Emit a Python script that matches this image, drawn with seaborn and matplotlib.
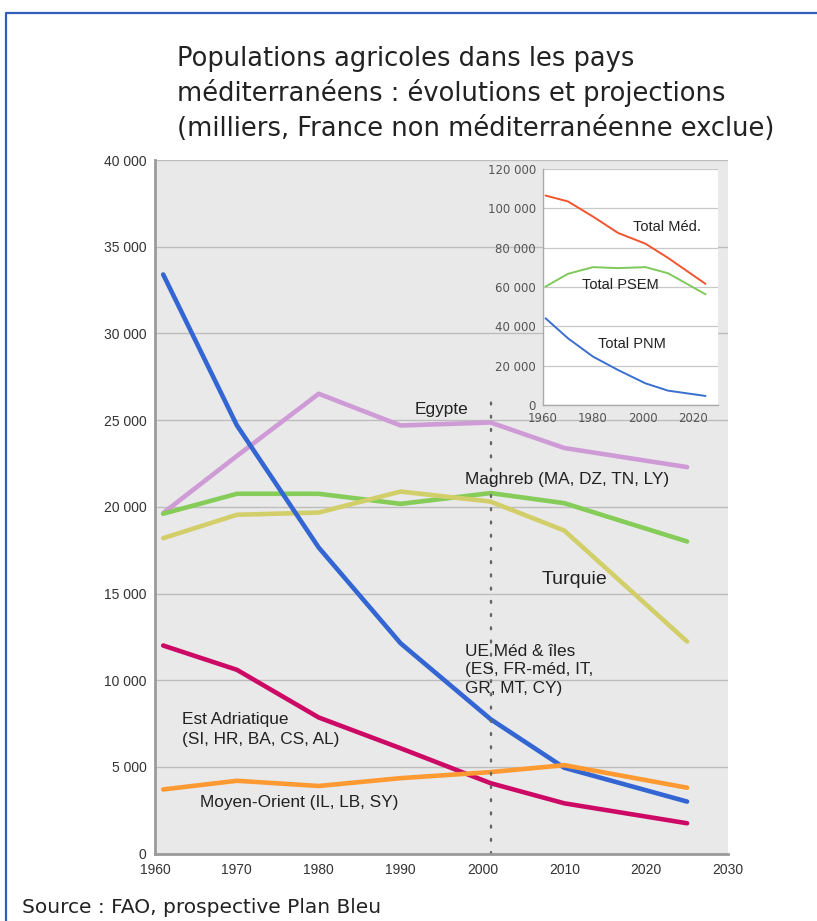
import matplotlib
matplotlib.use("Agg")
import matplotlib.pyplot as plt
import seaborn as sns
import pandas as pd
from matplotlib.lines import Line2D
from matplotlib.ticker import FuncFormatter

# ---------------- data ----------------
years = [1961, 1970, 1980, 1990, 2001, 2010, 2025]

egypte = [19640, 22930, 26520, 24690, 24860, 23390, 22290]
maghreb = [19600, 20750, 20750, 20170, 20790, 20210, 18000]
turquie = [18190, 19540, 19670, 20880, 20300, 18630, 12230]
ue_med = [33400, 24700, 17650, 12130, 7750, 4950, 3000]
est_adriatique = [12000, 10600, 7850, 6075, 4060, 2900, 1750]
moyen_orient = [3700, 4200, 3900, 4350, 4700, 5100, 3800]

total_med = [106500, 103500, 95800, 87500, 82000, 74800, 61600]
total_psem = [60200, 66700, 70100, 69600, 70100, 67000, 56300]
total_pnm = [44100, 33900, 24600, 17800, 11000, 7300, 4600]

main_xticks = [1960, 1970, 1980, 1990, 2000, 2010, 2020, 2030]
main_yticks = [0, 5000, 10000, 15000, 20000, 25000, 30000, 35000, 40000]
inset_xticks = [1960, 1980, 2000, 2020]
inset_yticks = [0, 20000, 40000, 60000, 80000, 100000, 120000]

title_lines = ["Populations agricoles dans les pays",
               "méditerranéens : évolutions et projections",
               "(milliers, France non méditerranéenne exclue)"]
source_text = "Source : FAO, prospective Plan Bleu"

projection_year = 2001
projection_top = 26300

# ---------------- style ----------------
sns.set_style("white")
plt.rcParams["font.family"] = ["Liberation Sans", "DejaVu Sans"]

W, H = 817, 921
fig = plt.figure(figsize=(W / 100, H / 100), dpi=100)


def fx(px):
    return px / W


def fy(py):
    return 1 - py / H


def space_fmt(v, pos=None):
    return f"{int(round(v)):,}".replace(",", " ")


# main axes
ax = fig.add_axes([fx(155), fy(853.6), fx(728) - fx(155), fy(160) - fy(853.6)])
ax.set_facecolor("#e9e9e9")

main_series = [
    (egypte, "#cf9bd6"),
    (maghreb, "#86cc58"),
    (turquie, "#d2cf6a"),
    (ue_med, "#3366d2"),
    (est_adriatique, "#cc0a66"),
    (moyen_orient, "#ff9a33"),
]
for vals, col in main_series:
    df = pd.DataFrame({"annee": years, "valeur": vals})
    sns.lineplot(data=df, x="annee", y="valeur", ax=ax, color=col, lw=3.3,
                 solid_joinstyle="round", sort=False)

ax.plot([projection_year, projection_year], [0, projection_top], color="#666666",
        lw=1.7, linestyle=(0, (0.8, 4.8)), dash_capstyle="round")

ax.set_xlim(1960, 2030)
ax.set_ylim(0, 40000)
ax.set_xticks(main_xticks)
ax.set_yticks(main_yticks)
ax.yaxis.set_major_formatter(FuncFormatter(space_fmt))
ax.set_xlabel("")
ax.set_ylabel("")
ax.grid(axis="y", color="#bdbdbd", lw=1)
ax.grid(axis="x", visible=False)
ax.set_axisbelow(True)
for s in ["top", "right"]:
    ax.spines[s].set_visible(False)
for s in ["left", "bottom"]:
    ax.spines[s].set_color("#9a9a9a")
    ax.spines[s].set_linewidth(2)
ax.tick_params(axis="y", length=4, width=1, color="#888888", pad=2,
               labelsize=10, labelcolor="#333333")
ax.tick_params(axis="x", direction="in", length=3, width=1, color="#888888",
               pad=7, labelsize=10, labelcolor="#333333")

lab = dict(fontsize=12.4, color="#222222", va="center")
ax.text(1995.0, 25600, "Egypte", ha="center", **lab)
ax.text(1997.85, 21560, "Maghreb (MA, DZ, TN, LY)", ha="left", **lab)
ax.text(2011.2, 15790, "Turquie", ha="center", fontsize=14, color="#222222", va="center")
ax.text(1997.85, 11650, "UE Méd & îles", ha="left", **lab)
ax.text(1997.85, 10590, "(ES, FR-méd, IT,", ha="left", **lab)
ax.text(1997.85, 9530, "GR, MT, CY)", ha="left", **lab)
ax.text(1963.26, 7710, "Est Adriatique", ha="left", **lab)
ax.text(1963.26, 6560, "(SI, HR, BA, CS, AL)", ha="left", **lab)
ax.text(1965.5, 2940, "Moyen-Orient (IL, LB, SY)", ha="left", **lab)

# inset axes
ax2 = fig.add_axes([fx(543), fy(405), fx(718) - fx(543), fy(169) - fy(405)])
ax2.set_facecolor("white")
inset_series = [
    (total_med, "#f2552e"),
    (total_psem, "#7fc95a"),
    (total_pnm, "#3a6fd0"),
]
for vals, col in inset_series:
    df = pd.DataFrame({"annee": years, "valeur": vals})
    sns.lineplot(data=df, x="annee", y="valeur", ax=ax2, color=col, lw=1.4, sort=False)
ax2.set_xlim(1960, 2030)
ax2.set_ylim(0, 120000)
ax2.set_xticks(inset_xticks)
ax2.set_yticks(inset_yticks)
ax2.yaxis.set_major_formatter(FuncFormatter(space_fmt))
ax2.set_xlabel("")
ax2.set_ylabel("")
ax2.grid(axis="y", color="#c8c8c8", lw=0.9)
ax2.grid(axis="x", visible=False)
ax2.set_axisbelow(True)
for s in ["top", "right"]:
    ax2.spines[s].set_visible(False)
for s in ["left", "bottom"]:
    ax2.spines[s].set_color("#aaaaaa")
    ax2.spines[s].set_linewidth(1)
for lbl in ax2.get_xticklabels() + ax2.get_yticklabels():
    lbl.set_fontfamily("DejaVu Sans")
ax2.tick_params(axis="both", length=3, width=0.8, color="#999999",
                labelsize=8.5, labelcolor="#555555", pad=2)
ilab = dict(fontsize=10.5, color="#222222", va="center", ha="center")
ax2.text(2009.6, 90590, "Total Méd.", **ilab)
ax2.text(1990.8, 61070, "Total PSEM", **ilab)
ax2.text(1995.6, 31040, "Total PNM", **ilab)

# title and source
for txt, yb in zip(title_lines, [66, 101, 136]):
    fig.text(fx(177), fy(yb), txt, fontsize=18.5, color="#222222",
             family="DejaVu Sans", va="baseline", ha="left")
fig.text(fx(22), fy(913), source_text, fontsize=14.5, color="#222222",
         family="DejaVu Sans", va="baseline", ha="left")

# blue frame
fig.add_artist(Line2D([fx(6), fx(6), 1.0], [0.0, fy(13), fy(13)],
                      transform=fig.transFigure, color="#2f5fb8", lw=1.6))

fig.savefig("out.png", dpi=100)
